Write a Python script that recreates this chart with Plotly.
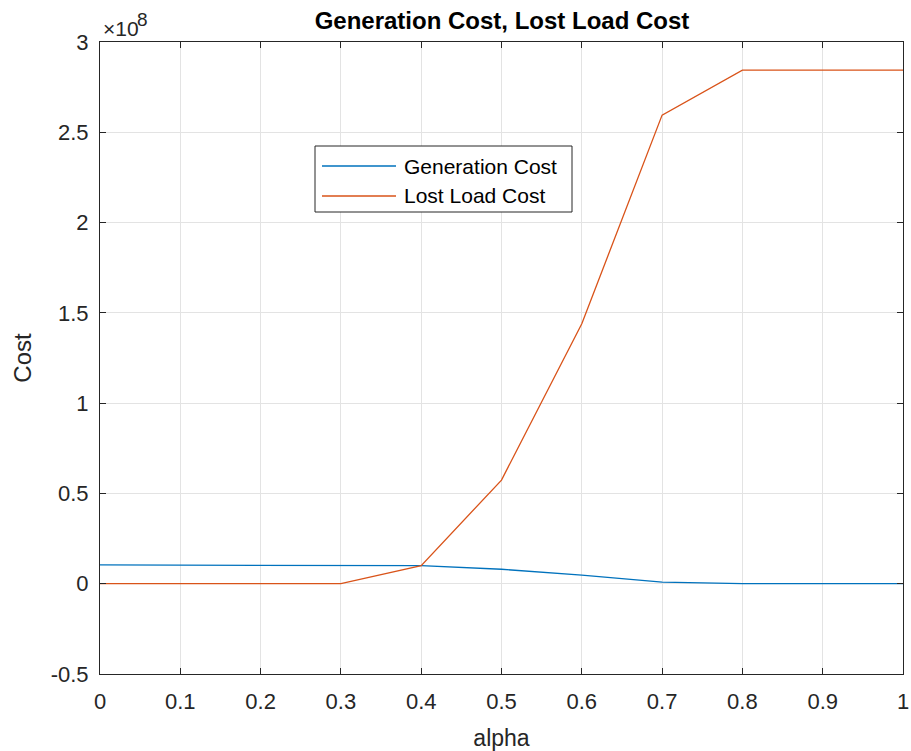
import plotly.graph_objects as go

# Sweep of the alpha parameter and the resulting costs
alpha = [0.0, 0.1, 0.2, 0.3, 0.4, 0.5, 0.6, 0.7, 0.8, 0.9, 1.0]
generation_cost = [1.04e7, 1.04e7, 1.04e7, 1.04e7, 1.0e7, 0.80e7, 0.48e7, 0.09e7, 0.01e7, 0.0, 0.0]
lost_load_cost = [0.0, 0.0, 0.0, 0.0, 1.0e7, 5.74e7, 1.44e8, 2.595e8, 2.844e8, 2.844e8, 2.844e8]

series_names = ["Generation Cost", "Lost Load Cost"]
series_colors = ["#0072BD", "#D95319"]

scale = 1e8
y_tickvals = [-0.5, 0, 0.5, 1, 1.5, 2, 2.5, 3]
y_ticktext = ["-0.5", "0", "0.5", "1", "1.5", "2", "2.5", "3"]
x_tickvals = [0, 0.1, 0.2, 0.3, 0.4, 0.5, 0.6, 0.7, 0.8, 0.9, 1]
x_ticktext = ["0", "0.1", "0.2", "0.3", "0.4", "0.5", "0.6", "0.7", "0.8", "0.9", "1"]

W, H = 911, 751
ML, MR, MT, MB = 100, 8, 42, 77
PW, PH = W - ML - MR, H - MT - MB

FONT = "Arial, Liberation Sans, Helvetica, sans-serif"
AXIS_COLOR = "#262626"
GRID_COLOR = "#e3e3e3"


def px_x(p):
    return (p - ML) / PW


def px_y(p):
    return (H - MB - p) / PH


fig = go.Figure()
for name, vals, color in zip(series_names, [generation_cost, lost_load_cost], series_colors):
    fig.add_trace(go.Scatter(
        x=alpha, y=[v / scale for v in vals], mode="lines", name=name,
        line=dict(color=color, width=1.3), showlegend=False,
    ))

axis_common = dict(
    showline=True, linecolor=AXIS_COLOR, linewidth=1, mirror="ticks",
    ticks="inside", ticklen=6, tickcolor=AXIS_COLOR, tickwidth=1,
    showgrid=True, gridcolor=GRID_COLOR, gridwidth=1, zeroline=False,
    automargin=False,
    tickfont=dict(family=FONT, size=22, color=AXIS_COLOR),
)

fig.update_xaxes(
    range=[0, 1], tickvals=x_tickvals, ticktext=x_ticktext,
    title=dict(text="alpha", font=dict(family=FONT, size=23, color=AXIS_COLOR), standoff=18),
    ticklabelstandoff=8,
    **axis_common,
)
fig.update_yaxes(
    range=[-0.5, 3], tickvals=y_tickvals, ticktext=y_ticktext,
    title=dict(text="Cost", font=dict(family=FONT, size=24, color=AXIS_COLOR), standoff=12),
    ticklabelstandoff=6,
    **axis_common,
)

# Legend box drawn by hand so the sample lines are long
lx0, lx1, ly0, ly1 = 315, 572, 146, 212
shapes = [dict(type="rect", xref="paper", yref="paper",
               x0=px_x(lx0), x1=px_x(lx1), y0=px_y(ly1), y1=px_y(ly0),
               line=dict(color=AXIS_COLOR, width=1), fillcolor="white", layer="above")]
annotations = []
for i, (name, color) in enumerate(zip(series_names, series_colors)):
    ypix = 166 + 30 * i
    shapes.append(dict(type="line", xref="paper", yref="paper",
                       x0=px_x(322), x1=px_x(396), y0=px_y(ypix), y1=px_y(ypix),
                       line=dict(color=color, width=1.3), layer="above"))
    annotations.append(dict(xref="paper", yref="paper", x=px_x(402), y=px_y(ypix),
                            text=name, showarrow=False, xanchor="left", yanchor="middle",
                            font=dict(family=FONT, size=21, color="black")))

# Exponent label for the y axis: multiplier and a raised exponent
annotations.append(dict(xref="paper", yref="paper", x=px_x(101), y=px_y(28),
                        text="×10", showarrow=False,
                        xanchor="left", yanchor="middle",
                        font=dict(family=FONT, size=21, color=AXIS_COLOR)))
annotations.append(dict(xref="paper", yref="paper", x=px_x(135), y=px_y(19),
                        text="8", showarrow=False,
                        xanchor="left", yanchor="middle",
                        font=dict(family=FONT, size=19, color=AXIS_COLOR)))

fig.update_layout(
    width=W, height=H,
    margin=dict(l=ML, r=MR, t=MT, b=MB, pad=0),
    paper_bgcolor="white", plot_bgcolor="white",
    title=dict(text="<b>Generation Cost, Lost Load Cost</b>",
               xref="container", x=502 / W, xanchor="center",
               yref="container", y=1 - 21 / H, yanchor="middle",
               font=dict(family=FONT, size=24, color="black")),
    shapes=shapes, annotations=annotations,
)

fig.write_html("out.html")
